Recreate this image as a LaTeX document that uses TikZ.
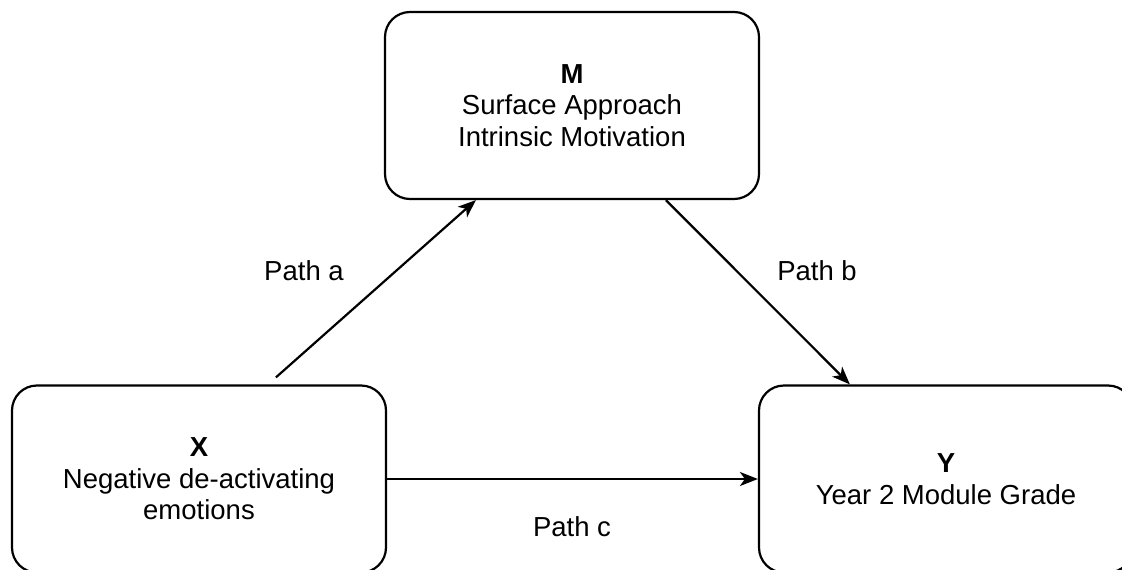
\documentclass[tikz,border=0pt]{standalone}
\usepackage{fontspec}
\setmainfont{Liberation Sans}
\usetikzlibrary{arrows.meta,calc}

\tikzset{
  varbox/.style={draw, line width=2.2pt, rounded corners=25pt,
    minimum width=374pt, minimum height=187pt, align=center,
    font=\fontsize{27.5}{31.5}\selectfont, inner sep=0pt},
  pathlabel/.style={inner sep=0pt, font=\fontsize{27.5}{31.5}\selectfont},
  link/.style={line width=2.2pt, -{Stealth[length=18pt, width=14pt, inset=5pt]}}
}

\begin{document}
\begin{tikzpicture}[x=1pt, y=-1pt]
  \clip (0,0) rectangle (1122,570);
  \fill[white] (0,0) rectangle (1122,570);

  % the three variables of the mediation model
  \node[varbox] (M) at (572,105.5) {\textbf{M}\\Surface Approach\\Intrinsic Motivation};
  \node[varbox] (X) at (199,479) {\textbf{X}\\Negative de-activating\\emotions};
  \node[varbox] (Y) at (946,479) {\textbf{Y}\\Year 2 Module Grade};

  % end points of the two slanted paths
  \coordinate (aS) at ($(X.north west)+(265,-7)$);
  \coordinate (aE) at ($(M.south west)+(92,0)$);
  \coordinate (bS) at ($(M.south west)+(282,0)$);
  \coordinate (bE) at ($(Y.north west)+(92,0)$);

  \draw[link] (aS) -- (aE);
  \draw[link] (bS) -- (bE);
  \draw[link] (X.east) -- (Y.west);

  \node[pathlabel] (la) at (304,271) {Path a};
  \node[pathlabel] (lb) at (817,271) {Path b};
  \node[pathlabel] (lc) at (572,527) {Path c};
\end{tikzpicture}
\end{document}
